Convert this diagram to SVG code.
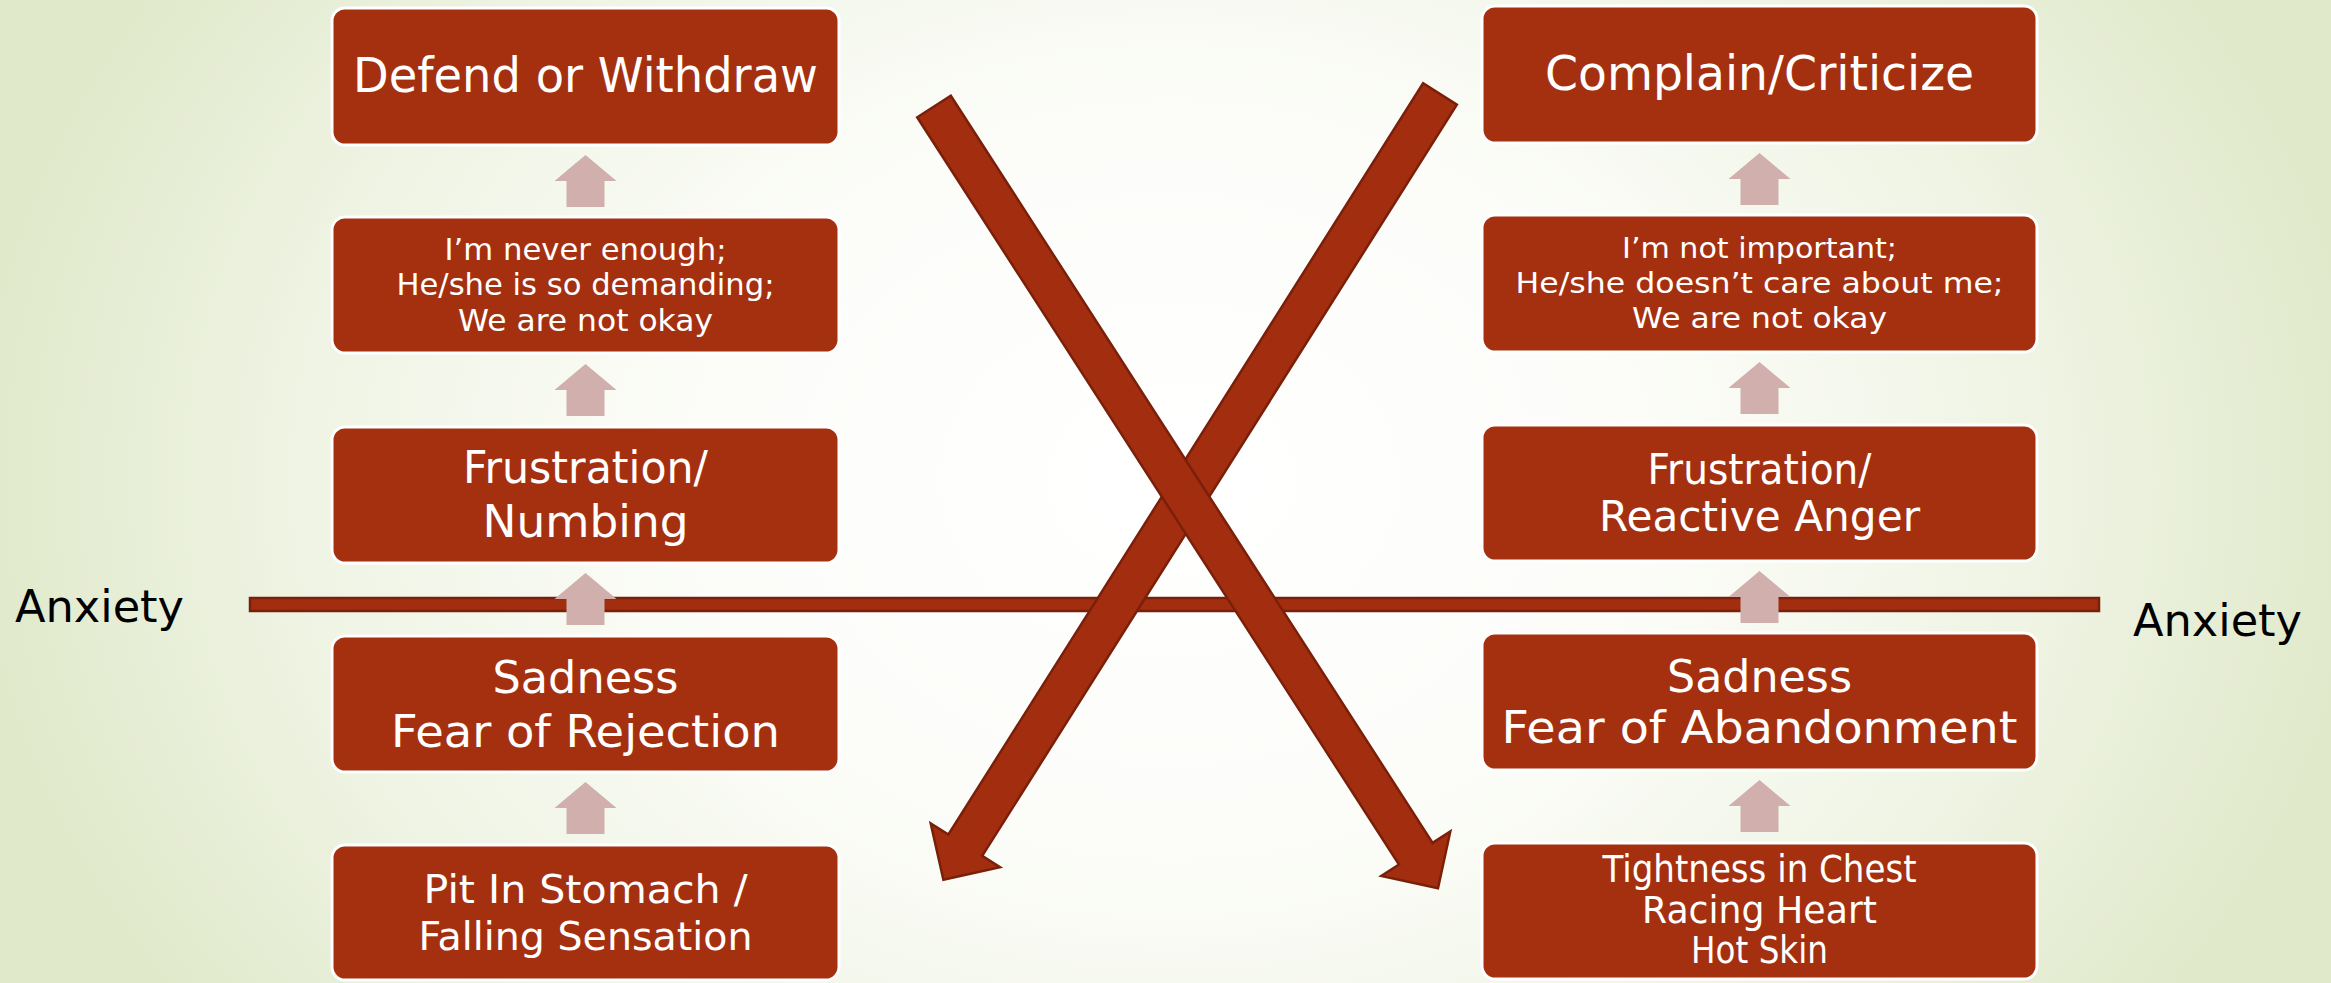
<svg xmlns="http://www.w3.org/2000/svg" xmlns:xlink="http://www.w3.org/1999/xlink" width="2331" height="983" viewBox="0 0 2331 983">
<defs>
<radialGradient id="bg" gradientUnits="userSpaceOnUse" cx="1170" cy="480" r="1200" gradientTransform="translate(1170 480) scale(1 0.78) translate(-1170 -480)">
<stop offset="0" stop-color="#FFFFFF"/>
<stop offset="0.4" stop-color="#FCFDF9"/>
<stop offset="0.75" stop-color="#EEF3E2"/>
<stop offset="1" stop-color="#E0E9CA"/>
</radialGradient>
<path id="up" d="M0,0 L31,26 L19,26 L19,52 L-19,52 L-19,26 L-31,26 Z"/>
<style>
.box{fill:#A53010;stroke:#FFFFFF;stroke-width:3}
.t{fill:#FFFFFF;font-family:"DejaVu Sans","Liberation Sans",sans-serif;text-anchor:middle}
.anx{fill:#000000;font-family:"DejaVu Sans","Liberation Sans",sans-serif;font-size:45px}
.pink{fill:#D1AFAD}
.big{fill:#A32E0F;stroke:#7A1F0A;stroke-width:2.5;stroke-linejoin:miter}
</style>
</defs>
<rect x="0" y="0" width="2331" height="983" fill="url(#bg)"/>

<g id="connectors">
<rect class="big" x="250" y="598" width="1849" height="13"/>
<polygon id="arrow-to-left" class="big" points="1456.9,104.7 982.2,855.9 1000,867.1 943.4,879.8 930.7,823.3 948.4,834.5 1423.1,83.3"/>
<polygon id="arrow-to-right" class="big" points="950.8,95.7 1432.6,842.9 1450.3,831.5 1438,888.2 1381.3,875.9 1399,864.5 917.2,117.3"/>
<use href="#up" class="pink" x="585.5" y="155"/>
<use href="#up" class="pink" x="585.5" y="364"/>
<use href="#up" class="pink" x="585.5" y="573"/>
<use href="#up" class="pink" x="585.5" y="782"/>
<use href="#up" class="pink" x="1759.5" y="153"/>
<use href="#up" class="pink" x="1759.5" y="362"/>
<use href="#up" class="pink" x="1759.5" y="571"/>
<use href="#up" class="pink" x="1759.5" y="780"/>
</g>

<g id="anxiety-left"><text class="anx" x="15" y="622" textLength="169" lengthAdjust="spacingAndGlyphs">Anxiety</text></g>
<g id="anxiety-right"><text class="anx" x="2133" y="636" textLength="169" lengthAdjust="spacingAndGlyphs">Anxiety</text></g>

<g id="defend">
<rect class="box" x="332" y="8" width="507" height="137" rx="13"/>
<text class="t" x="585.5" y="92" font-size="48" textLength="465" lengthAdjust="spacingAndGlyphs">Defend or Withdraw</text>
</g>
<g id="never-enough">
<rect class="box" x="332" y="217" width="507" height="136" rx="13"/>
<text class="t" x="585.5" y="260" font-size="30" textLength="282" lengthAdjust="spacingAndGlyphs">I’m never enough;</text>
<text class="t" x="585.5" y="295" font-size="30" textLength="378" lengthAdjust="spacingAndGlyphs">He/she is so demanding;</text>
<text class="t" x="585.5" y="331" font-size="30" textLength="255" lengthAdjust="spacingAndGlyphs">We are not okay</text>
</g>
<g id="frustration-numbing">
<rect class="box" x="332" y="427" width="507" height="136" rx="13"/>
<text class="t" x="585.5" y="483" font-size="45" textLength="245" lengthAdjust="spacingAndGlyphs">Frustration/</text>
<text class="t" x="585.5" y="537" font-size="45" textLength="206" lengthAdjust="spacingAndGlyphs">Numbing</text>
</g>
<g id="sadness-rejection">
<rect class="box" x="332" y="636" width="507" height="136" rx="13"/>
<text class="t" x="585.5" y="693" font-size="45" textLength="186" lengthAdjust="spacingAndGlyphs">Sadness</text>
<text class="t" x="585.5" y="747" font-size="45" textLength="389" lengthAdjust="spacingAndGlyphs">Fear of Rejection</text>
</g>
<g id="pit-stomach">
<rect class="box" x="332" y="845" width="507" height="135" rx="13"/>
<text class="t" x="585.5" y="903" font-size="39" textLength="324" lengthAdjust="spacingAndGlyphs">Pit In Stomach /</text>
<text class="t" x="585.5" y="950" font-size="39" textLength="334" lengthAdjust="spacingAndGlyphs">Falling Sensation</text>
</g>

<g id="complain">
<rect class="box" x="1482" y="6" width="555" height="137" rx="13"/>
<text class="t" x="1759.5" y="90" font-size="48" textLength="429" lengthAdjust="spacingAndGlyphs">Complain/Criticize</text>
</g>
<g id="not-important">
<rect class="box" x="1482" y="215" width="555" height="137" rx="13"/>
<text class="t" x="1759.5" y="258" font-size="29" textLength="275" lengthAdjust="spacingAndGlyphs">I’m not important;</text>
<text class="t" x="1759.5" y="293" font-size="29" textLength="488" lengthAdjust="spacingAndGlyphs">He/she doesn’t care about me;</text>
<text class="t" x="1759.5" y="328" font-size="29" textLength="255" lengthAdjust="spacingAndGlyphs">We are not okay</text>
</g>
<g id="frustration-anger">
<rect class="box" x="1482" y="425" width="555" height="136" rx="13"/>
<text class="t" x="1759.5" y="484" font-size="43" textLength="224" lengthAdjust="spacingAndGlyphs">Frustration/</text>
<text class="t" x="1759.5" y="531" font-size="43" textLength="321" lengthAdjust="spacingAndGlyphs">Reactive Anger</text>
</g>
<g id="sadness-abandonment">
<rect class="box" x="1482" y="633" width="555" height="137" rx="13"/>
<text class="t" x="1759.5" y="692" font-size="44" textLength="185" lengthAdjust="spacingAndGlyphs">Sadness</text>
<text class="t" x="1759.5" y="743" font-size="44" textLength="516" lengthAdjust="spacingAndGlyphs">Fear of Abandonment</text>
</g>
<g id="tightness">
<rect class="box" x="1482" y="843" width="555" height="136" rx="13"/>
<text class="t" x="1759.5" y="882" font-size="37" textLength="314" lengthAdjust="spacingAndGlyphs">Tightness in Chest</text>
<text class="t" x="1759.5" y="923" font-size="37" textLength="235" lengthAdjust="spacingAndGlyphs">Racing Heart</text>
<text class="t" x="1759.5" y="963" font-size="37" textLength="137" lengthAdjust="spacingAndGlyphs">Hot Skin</text>
</g>
</svg>
